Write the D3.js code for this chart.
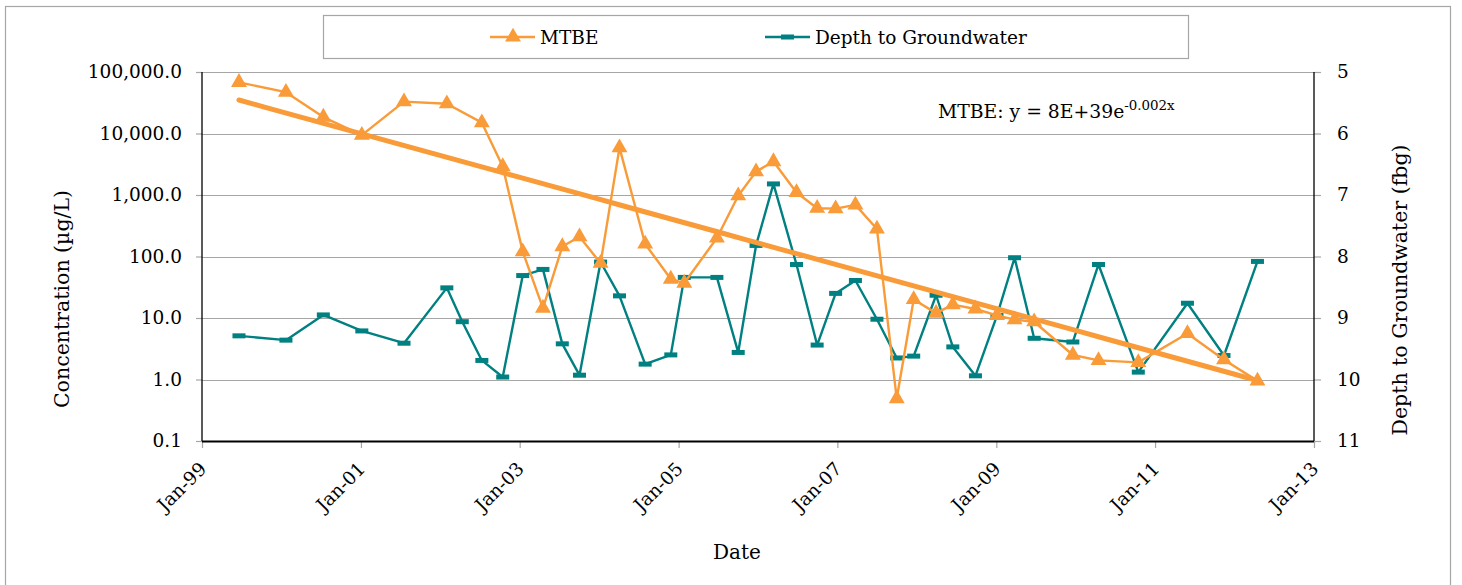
<!DOCTYPE html>
<html>
<head>
<meta charset="utf-8">
<script src="https://cdn.jsdelivr.net/npm/d3@7/dist/d3.min.js"></script>
<style>
  html, body { margin: 0; padding: 0; background: #fff; }
  svg { display: block; }
  text { font-family: "DejaVu Serif", "Liberation Serif", serif; fill: #000; }
</style>
</head>
<body>
<svg id="chart" width="1462" height="585"></svg>
<script>
// Sampling dates shared by both series
const sampleDates = [
  "1999-06-20", "2000-01-22", "2000-07-12", "2001-01-05", "2001-07-18",
  "2002-01-31", "2002-04-12", "2002-07-11", "2002-10-15", "2003-01-15",
  "2003-04-18", "2003-07-16", "2003-10-03", "2004-01-08", "2004-04-04",
  "2004-07-31", "2004-11-26", "2005-01-27", "2005-06-26", "2005-10-02",
  "2005-12-23", "2006-03-13", "2006-06-27", "2006-09-30", "2006-12-24",
  "2007-03-25", "2007-07-02", "2007-10-01", "2007-12-18", "2008-03-30",
  "2008-06-15", "2008-09-27", "2009-01-04", "2009-03-26", "2009-06-24",
  "2009-12-19", "2010-04-16", "2010-10-16", "2011-05-30", "2011-11-14",
  "2012-04-16"
];

// MTBE concentration (µg/L); null = not sampled
const mtbeValues = [
  68000, 47000, 18500, 9400, 33000,
  30500, null, 15000, 2900, 120,
  14.5, 145, 210, 78, 5900,
  160, 43, 37, 200, 975,
  2400, 3500, 1100, 610, 600,
  690, 280, 0.49, 20, 12,
  16.5, 14, 11, 9.4, 8.7,
  2.5, 2.05, 1.9, 5.6, 2.1,
  0.95
];

// Depth to groundwater (feet below grade)
const depthValues = [
  9.29, 9.36, 8.95, 9.21, 9.41,
  8.51, 9.06, 9.69, 9.96, 8.31,
  8.21, 9.42, 9.93, 8.09, 8.64,
  9.75, 9.60, 8.34, 8.34, 9.56,
  7.82, 6.82, 8.13, 9.44, 8.60,
  8.39, 9.02, 9.65, 9.62, 8.63,
  9.47, 9.94, 8.96, 8.02, 9.33,
  9.39, 8.13, 9.88, 8.76, 9.61,
  8.08
];

const concTicks = [0.1, 1, 10, 100, 1000, 10000, 100000];
const depthTicks = [5, 6, 7, 8, 9, 10, 11];
const dateTickYears = [1999, 2001, 2003, 2005, 2007, 2009, 2011, 2013];

const seriesNames = ["MTBE", "Depth to Groundwater"];
const trendLabel = { prefix: "MTBE: y = 8E+39e", exponent: "-0.002x" };

const colors = { mtbe: "#f99b38", depth: "#008080", grid: "#a6a6a6", frame: "#a6a6a6" };
const tickFont = 18.5;

const parse = d3.timeParse("%Y-%m-%d");
const rows = sampleDates.map((d, i) => ({ date: parse(d), mtbe: mtbeValues[i], depth: depthValues[i] }));

const plot = { left: 202, right: 1314, top: 72, bottom: 441 };

const svg = d3.select("#chart");

// outer frame
svg.append("rect")
  .attr("x", 5.5).attr("y", 6.5).attr("width", 1445).attr("height", 590)
  .attr("fill", "none").attr("stroke", colors.frame).attr("stroke-width", 1.2);

const x = d3.scaleTime()
  .domain([new Date(1999, 0, 1), new Date(2013, 0, 1)])
  .range([plot.left, plot.right]);
const yConc = d3.scaleLog().domain([0.1, 100000]).range([plot.bottom, plot.top]);
const yDepth = d3.scaleLinear().domain([5, 11]).range([plot.top, plot.bottom]);

// horizontal gridlines
svg.append("g").selectAll("line").data(concTicks.filter(t => t > 0.1)).join("line")
  .attr("x1", plot.left).attr("x2", plot.right)
  .attr("y1", d => Math.round(yConc(d)) + 0.5).attr("y2", d => Math.round(yConc(d)) + 0.5)
  .attr("stroke", colors.grid).attr("stroke-width", 1.2);

// left axis
const leftAxis = d3.axisLeft(yConc).tickValues(concTicks).tickFormat(d3.format(",.1f")).tickSize(6).tickPadding(14);
const gL = svg.append("g").attr("transform", `translate(${plot.left},0)`).call(leftAxis);
gL.select(".domain").remove();
gL.selectAll(".tick line").attr("stroke", colors.grid).attr("stroke-width", 1.2);
gL.selectAll(".tick text").attr("font-size", tickFont).attr("font-family", "DejaVu Serif");

// right axis
const rightAxis = d3.axisRight(yDepth).tickValues(depthTicks).tickFormat(d3.format("d")).tickSize(7).tickPadding(16);
const gR = svg.append("g").attr("transform", `translate(${plot.right},0)`).call(rightAxis);
gR.select(".domain").remove();
gR.selectAll(".tick line").attr("stroke", colors.grid).attr("stroke-width", 1.2);
gR.selectAll(".tick text").attr("font-size", tickFont).attr("font-family", "DejaVu Serif");

// bottom axis
const bottomAxis = d3.axisBottom(x)
  .tickValues(dateTickYears.map(yy => new Date(yy, 0, 1)))
  .tickFormat(d3.timeFormat("%b-%y")).tickSize(7).tickPadding(8);
const gB = svg.append("g").attr("transform", `translate(0,${plot.bottom})`).call(bottomAxis);
gB.select(".domain").remove();
gB.selectAll(".tick line").attr("stroke", colors.grid).attr("stroke-width", 1.2);
gB.selectAll(".tick text")
  .attr("font-size", tickFont).attr("font-family", "DejaVu Serif")
  .attr("text-anchor", "end")
  .attr("x", 0).attr("y", 0).attr("dy", 0)
  .attr("transform", "translate(5,29) rotate(-45)");

// axis lines
svg.append("line").attr("x1", plot.left).attr("x2", plot.left).attr("y1", plot.top).attr("y2", plot.bottom)
  .attr("stroke", "#000").attr("stroke-width", 1.3);
svg.append("line").attr("x1", plot.right).attr("x2", plot.right).attr("y1", plot.top).attr("y2", plot.bottom)
  .attr("stroke", "#000").attr("stroke-width", 1.3);
svg.append("line").attr("x1", plot.left).attr("x2", plot.right).attr("y1", plot.bottom + 0.5).attr("y2", plot.bottom + 0.5)
  .attr("stroke", "#000").attr("stroke-width", 1.8);

// axis titles
svg.append("text").attr("transform", "translate(69,299) rotate(-90)")
  .attr("text-anchor", "middle").attr("font-size", 20.5).text("Concentration (µg/L)");
svg.append("text").attr("transform", "translate(1407,290) rotate(-90)")
  .attr("text-anchor", "middle").attr("font-size", 20.5).text("Depth to Groundwater (fbg)");
svg.append("text").attr("x", 737).attr("y", 559)
  .attr("text-anchor", "middle").attr("font-size", 20).text("Date");

// depth series
const depthRows = rows.filter(r => r.depth != null);
svg.append("path").datum(depthRows)
  .attr("fill", "none").attr("stroke", colors.depth).attr("stroke-width", 2.4).attr("stroke-linejoin", "round")
  .attr("d", d3.line().x(r => x(r.date)).y(r => yDepth(r.depth)));
svg.append("g").selectAll("rect").data(depthRows).join("rect")
  .attr("x", r => x(r.date) - 6.5).attr("y", r => yDepth(r.depth) - 2.5)
  .attr("width", 13).attr("height", 5).attr("fill", colors.depth);

// MTBE series
const mtbeRows = rows.filter(r => r.mtbe != null);
svg.append("path").datum(mtbeRows)
  .attr("fill", "none").attr("stroke", colors.mtbe).attr("stroke-width", 2.4).attr("stroke-linejoin", "round")
  .attr("d", d3.line().x(r => x(r.date)).y(r => yConc(r.mtbe)));

// exponential trendline (least squares on ln of concentration)
const dayMs = 86400000;
const xs = mtbeRows.map(r => r.date.getTime() / dayMs);
const ys = mtbeRows.map(r => Math.log(r.mtbe));
const mx = d3.mean(xs), my = d3.mean(ys);
const slope = d3.sum(xs.map((v, i) => (v - mx) * (ys[i] - my))) / d3.sum(xs.map(v => (v - mx) * (v - mx)));
const intercept = my - slope * mx;
const trendDates = d3.extent(mtbeRows, r => r.date);
const trendPts = d3.range(0, 41).map(i => {
  const t = new Date(trendDates[0].getTime() + (trendDates[1] - trendDates[0]) * i / 40);
  return { date: t, v: Math.exp(intercept + slope * t.getTime() / dayMs) };
});
svg.append("path").datum(trendPts)
  .attr("fill", "none").attr("stroke", colors.mtbe).attr("stroke-width", 5).attr("stroke-linecap", "round")
  .attr("d", d3.line().x(p => x(p.date)).y(p => yConc(p.v)));

const tri = d3.symbol().type(d3.symbolTriangle).size(110);
svg.append("g").selectAll("path").data(mtbeRows).join("path")
  .attr("transform", r => `translate(${x(r.date)},${yConc(r.mtbe)})`)
  .attr("d", tri).attr("fill", colors.mtbe);

// trendline equation
const eq = svg.append("text").attr("x", 938).attr("y", 118).attr("font-size", 18.8);
eq.append("tspan").text(trendLabel.prefix);
eq.append("tspan").attr("dy", -8).attr("font-size", 13.4).text(trendLabel.exponent);

// legend
svg.append("rect").attr("x", 323.5).attr("y", 15.5).attr("width", 865).attr("height", 43)
  .attr("fill", "#fff").attr("stroke", colors.frame).attr("stroke-width", 1.2);
const lg1 = svg.append("g").attr("transform", "translate(490,37)");
lg1.append("line").attr("x1", 0).attr("x2", 45).attr("stroke", colors.mtbe).attr("stroke-width", 2.4);
lg1.append("path").attr("transform", "translate(23,0)").attr("d", tri).attr("fill", colors.mtbe);
lg1.append("text").attr("x", 50).attr("y", 7).attr("font-size", 18.5).text(seriesNames[0]);
const lg2 = svg.append("g").attr("transform", "translate(765,37)");
lg2.append("line").attr("x1", 0).attr("x2", 45).attr("stroke", colors.depth).attr("stroke-width", 2.4);
lg2.append("rect").attr("x", 16).attr("y", -2.5).attr("width", 13).attr("height", 5).attr("fill", colors.depth);
lg2.append("text").attr("x", 50).attr("y", 7).attr("font-size", 18.5).text(seriesNames[1]);
</script>
</body>
</html>
